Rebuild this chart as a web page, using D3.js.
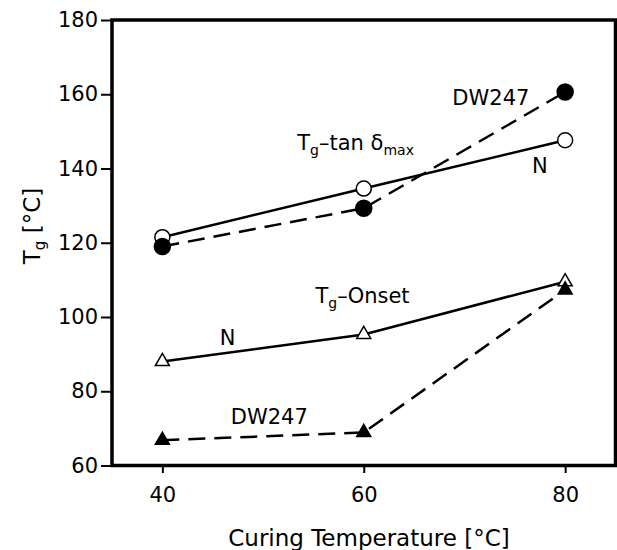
<html>
<head>
<meta charset="utf-8">
<script src="https://d3js.org/d3.v7.min.js"></script>
<style>
  body { margin: 0; background: #fff; }
  text { font-family: "DejaVu Sans", sans-serif; fill: #000; }
</style>
</head>
<body>
<svg class="chart" width="617" height="550"></svg>
<script>

// curing temperatures (°C)
let temps = [40, 60, 80];

// Tg values
let tanN     = [121.5, 134.6, 147.6];   // open circles, solid
let tanDW    = [119.0, 129.3, 160.6];   // filled circles, dashed
let onsetN   = [88.0, 95.3, 109.5];     // open triangles, solid
let onsetDW  = [66.8, 68.9, 107.3];     // filled triangles, dashed

let xTicks = [40, 60, 80];
let yTicks = [60, 80, 100, 120, 140, 160, 180];

const svg = d3.select('.chart')

let x = d3.scaleLinear().domain([35, 85]).range([112, 615.5]);
let y = d3.scaleLinear().domain([60, 180]).range([465.5, 20]);

// y axis ticks, outside the box
const yAxis = svg.append("g")
    .attr("transform", "translate(111,0)")
    .call(d3.axisLeft(y).tickValues(yTicks).tickSize(10).tickPadding(3))
yAxis.select(".domain").remove()
yAxis.selectAll("line").attr("stroke-width", 2)
yAxis.selectAll("text")
    .style("font-family", "DejaVu Sans").style("font-size", "21px").attr("fill", "#000")

const xAxis = svg.append("g")
    .attr("transform", "translate(0,466)")
    .call(d3.axisBottom(x).tickValues(xTicks).tickSize(7))
xAxis.select(".domain").remove()
xAxis.selectAll("line").attr("stroke-width", 2)
xAxis.selectAll("text")
    .attr("y", 36).attr("dy", 0)
    .style("font-family", "DejaVu Sans").style("font-size", "21px").attr("fill", "#000")

// frame
svg.append("rect")
    .attr("x", x(35)).attr("y", y(180))
    .attr("width", x(85) - x(35)).attr("height", y(60) - y(180))
    .attr("fill", "none").attr("stroke", "#000").attr("stroke-width", 3.5)

const line = d3.line().x((d, i) => x(temps[i])).y(d => y(d))

function series(vals, dashed) {
  svg.append("path")
      .datum(vals)
      .attr("d", line)
      .attr("fill", "none")
      .attr("stroke", "#000")
      .attr("stroke-width", 2.5)
      .attr("stroke-dasharray", dashed ? "17,9" : null)
}
series(tanN, false)
series(tanDW, true)
series(onsetN, false)
series(onsetDW, true)

function circles(vals, filled) {
  svg.selectAll(null).data(vals).enter()
    .append("circle")
      .attr("cx", (d, i) => x(temps[i]))
      .attr("cy", d => y(d))
      .attr("r", filled ? 8 : 7.5)
      .attr("fill", filled ? "#000" : "#fff")
      .attr("stroke", "#000")
      .attr("stroke-width", 1.5)
}
circles(tanN, false)
circles(tanDW, true)

const tri = d3.symbol().type(d3.symbolTriangle).size(85)
function triangles(vals, filled) {
  svg.selectAll(null).data(vals).enter()
    .append("path")
      .attr("d", tri)
      .attr("transform", (d, i) => `translate(${x(temps[i])},${y(d)})`)
      .attr("fill", filled ? "#000" : "#fff")
      .attr("stroke", "#000")
      .attr("stroke-width", 1.5)
}
triangles(onsetN, false)
triangles(onsetDW, true)

// annotations, positioned in data units
function label(tx, ty, parts) {
  const t = svg.append("text")
      .attr("x", x(tx)).attr("y", y(ty))
      .style("font-size", "21px")
  parts.forEach(p => {
    const s = t.append("tspan").text(p[0])
    if (p[1]) s.style("font-size", "14px").attr("dy", 5)
    else if (p[2]) s.attr("dy", -5)
  })
}
label(68.8, 157.1, [["DW247"]])
label(53.4, 145, [["T"], ["g", true], ["\u2013tan  \u03b4", false, true], ["max", true]])
label(76.7, 138.8, [["N"]])
label(55.2, 103.8, [["T"], ["g", true], ["\u2013Onset", false, true]])
label(45.7, 92.5, [["N"]])
label(46.8, 71.2, [["DW247"]])

// axis titles
svg.append("text")
    .attr("x", 369).attr("y", 546)
    .attr("text-anchor", "middle")
    .style("font-size", "23px")
    .text("Curing Temperature [\u00b0C]")

const yt = svg.append("text")
    .attr("transform", "translate(40,226) rotate(-90)")
    .attr("text-anchor", "middle")
    .style("font-size", "23px")
yt.append("tspan").text("T")
yt.append("tspan").text("g").style("font-size", "15px").attr("dy", 5)
yt.append("tspan").text(" [\u00b0C]").attr("dy", -5)

</script>
</body>
</html>
